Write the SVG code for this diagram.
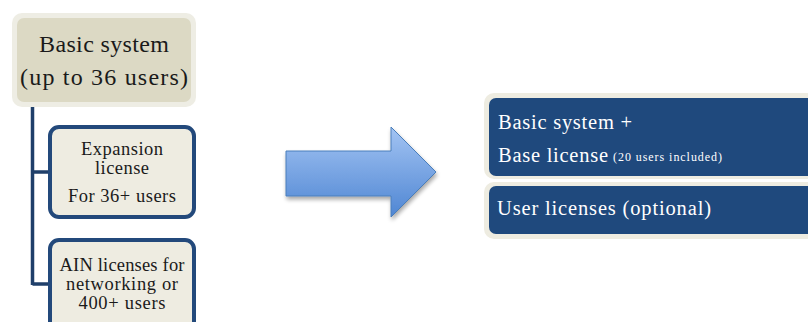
<svg xmlns="http://www.w3.org/2000/svg" width="808" height="322" viewBox="0 0 808 322">
  <style>
    .serif { font-family: "Liberation Serif", "DejaVu Serif", serif; }
    .dark { fill: #1a1a1a; }
    .white { fill: #ffffff; }
    .tree { stroke: #1f3f6a; stroke-width: 3.5; fill: none; }
    .card { fill: #eeece1; stroke: #23497b; stroke-width: 4; }
    .halo { fill: #eeece1; }
    .navy { fill: #1f497d; }
  </style>
  <defs>
    <linearGradient id="arrowFill" x1="0" y1="0" x2="0" y2="1">
      <stop offset="0" stop-color="#a3c4f3"/>
      <stop offset="1" stop-color="#4f86d3"/>
    </linearGradient>
    <filter id="shadow" x="-10%" y="-10%" width="130%" height="140%">
      <feGaussianBlur in="SourceAlpha" stdDeviation="2"/>
      <feOffset dx="1" dy="3" result="b"/>
      <feComponentTransfer><feFuncA type="linear" slope="0.35"/></feComponentTransfer>
      <feMerge><feMergeNode/><feMergeNode in="SourceGraphic"/></feMerge>
    </filter>
  </defs>

  <!-- tree connectors -->
  <g id="connectors">
    <path class="tree" d="M32.5,106 V285 M32.5,172 H49 M32.5,284 H49"/>
  </g>

  <!-- root: basic system -->
  <g id="basic-system">
    <rect x="12" y="13" width="184" height="94" rx="10" fill="#eeede4"/>
    <rect x="17" y="18" width="174" height="84" rx="7" fill="#dcd9c4"/>
    <text class="serif dark" x="104" y="52" font-size="24" text-anchor="middle" textLength="130">Basic system</text>
    <text class="serif dark" x="104" y="85" font-size="24" text-anchor="middle" textLength="168">(up to 36 users)</text>
  </g>

  <!-- expansion license -->
  <g id="expansion-license">
    <rect class="card" x="50" y="127" width="144" height="90" rx="9"/>
    <text class="serif dark" x="122" y="155" font-size="18.5" text-anchor="middle" textLength="82">Expansion</text>
    <text class="serif dark" x="122" y="174" font-size="18.5" text-anchor="middle" textLength="54">license</text>
    <text class="serif dark" x="122" y="202" font-size="18.5" text-anchor="middle" textLength="108">For 36+ users</text>
  </g>

  <!-- AIN licenses -->
  <g id="ain-licenses">
    <rect class="card" x="50" y="240" width="144" height="100" rx="9"/>
    <text class="serif dark" x="122" y="271" font-size="18.5" text-anchor="middle" textLength="125">AIN licenses for</text>
    <text class="serif dark" x="122" y="290" font-size="18.5" text-anchor="middle" textLength="112">networking or</text>
    <text class="serif dark" x="122" y="309" font-size="18.5" text-anchor="middle" textLength="87">400+ users</text>
  </g>

  <!-- block arrow -->
  <g id="arrow">
    <path d="M286,151 H391 V127 L436,172 L391,217 V196 H286 Z" fill="url(#arrowFill)" stroke="#4a7ebb" stroke-width="1" filter="url(#shadow)"/>
  </g>

  <!-- base license -->
  <g id="base-license">
    <rect class="halo" x="484" y="93" width="340" height="86" rx="10"/>
    <rect class="navy" x="489" y="98" width="335" height="78" rx="7"/>
    <text class="serif white" x="498" y="129" font-size="20.5" textLength="134">Basic system +</text>
    <text class="serif white" x="498" y="162" font-size="20.5" textLength="110">Base license</text>
    <text class="serif white" x="613" y="161" font-size="12" textLength="109">(20 users included)</text>
  </g>

  <!-- user licenses -->
  <g id="user-licenses">
    <rect class="halo" x="484" y="182" width="340" height="57" rx="10"/>
    <rect class="navy" x="489" y="186" width="335" height="48" rx="7"/>
    <text class="serif white" x="497" y="215" font-size="20.5" textLength="214">User licenses (optional)</text>
  </g>
</svg>
